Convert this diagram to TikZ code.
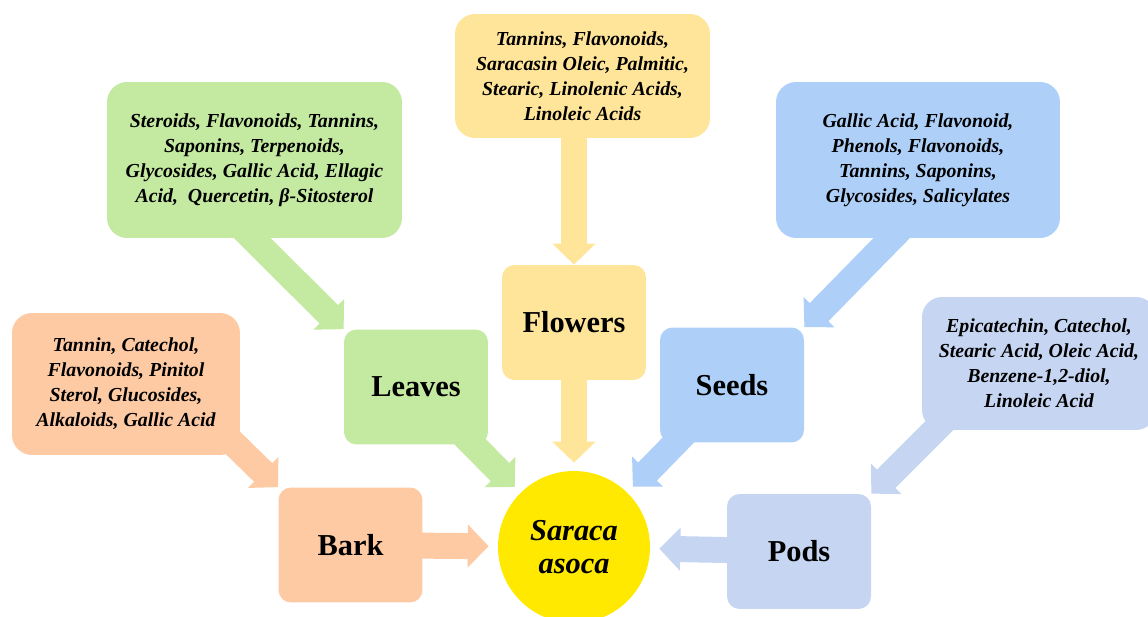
\documentclass[tikz,border=0pt]{standalone}
\usepackage{fontspec}
\setmainfont{Liberation Serif}
\usepackage{tikz}
\usetikzlibrary{arrows.meta,backgrounds}

\definecolor{leafgreen}{RGB}{196,233,161}
\definecolor{flowerbuff}{RGB}{255,229,153}
\definecolor{seedblue}{RGB}{174,208,248}
\definecolor{barkpeach}{RGB}{253,202,164}
\definecolor{podlilac}{RGB}{198,214,242}
\definecolor{asocayellow}{RGB}{255,233,0}

\begin{document}
\begin{tikzpicture}[x=0.02cm, y=-0.02cm,
    info/.style={rounded corners=0.4cm, inner sep=0pt, align=center,
        font=\fontsize{11.3}{14.2}\selectfont\bfseries\itshape},
    part/.style={rounded corners=0.25cm, minimum width=2.88cm, minimum height=2.3cm,
        inner sep=0pt, font=\fontsize{17.3}{20}\selectfont\bfseries},
    blockarrow/.style={line width=0.52cm, -{Triangle[width=0.84cm, length=0.42cm]}}]

    \useasboundingbox (0,0) rectangle (1148,617);

    % lists of compounds
    \node[info, fill=leafgreen, minimum width=5.9cm, minimum height=3.12cm] (leavesinfo) at (254.5,160)
        {Steroids, Flavonoids, Tannins,\\ Saponins, Terpenoids,\\ Glycosides, Gallic Acid, Ellagic\\ Acid,\ \ Quercetin, β-Sitosterol};
    \node[info, fill=flowerbuff, minimum width=5.1cm, minimum height=2.48cm] (flowersinfo) at (582.5,76)
        {Tannins, Flavonoids,\\ Saracasin Oleic, Palmitic,\\ Stearic, Linolenic Acids,\\ Linoleic Acids};
    \node[info, fill=seedblue, minimum width=5.68cm, minimum height=3.12cm] (seedsinfo) at (918,160)
        {Gallic Acid, Flavonoid,\\ Phenols, Flavonoids,\\ Tannins, Saponins,\\ Glycosides, Salicylates};
    \node[info, fill=barkpeach, minimum width=4.56cm, minimum height=2.84cm] (barkinfo) at (126,384)
        {Tannin, Catechol,\\ Flavonoids, Pinitol\\ Sterol, Glucosides,\\ Alkaloids, Gallic Acid};
    \node[info, fill=podlilac, minimum width=4.68cm, minimum height=2.66cm] (podsinfo) at (1039,363.5)
        {Epicatechin, Catechol,\\ Stearic Acid, Oleic Acid,\\ Benzene-1,2-diol,\\ Linoleic Acid};

    % plant parts
    \node[part, fill=leafgreen] (leaves) at (416,387) {Leaves};
    \node[part, fill=flowerbuff] (flowers) at (574,322.5) {Flowers};
    \node[part, fill=seedblue] (seeds) at (732,385) {Seeds};
    \node[part, fill=barkpeach] (bark) at (350.5,545) {Bark};
    \node[part, fill=podlilac] (pods) at (799,551.5) {Pods};

    \node[circle, fill=asocayellow, minimum size=3.04cm, inner sep=0pt, align=center,
        font=\fontsize{17.3}{18.5}\selectfont\bfseries\itshape] (sa) at (574,547) {Saraca\\ asoca};

    \begin{scope}[on background layer]
        \draw[blockarrow, leafgreen] ([shift={(-22,-20)}]leavesinfo.south) -- (leaves.north west);
        \draw[blockarrow, flowerbuff] (flowersinfo -| flowers) -- (flowers.north);
        \draw[blockarrow, seedblue] ([shift={(-7,-20)}]seedsinfo.south) -- (seeds.north east);
        \draw[blockarrow, barkpeach] ([shift={(-10,-15)}]barkinfo.south east) -- (bark.north west);
        \draw[blockarrow, podlilac] ([shift={(28,-15)}]podsinfo.south west) -- (pods.north east);

        \draw[blockarrow, leafgreen, shorten >=0.16cm] (leaves.center) -- (sa);
        \draw[blockarrow, flowerbuff, shorten >=0.16cm] (flowers.center) -- (sa);
        \draw[blockarrow, seedblue, shorten >=0.16cm] (seeds.center) -- (sa);
        \draw[blockarrow, barkpeach, shorten >=0.18cm] (bark.center) -- (sa);
        \draw[blockarrow, podlilac, shorten >=0.18cm] (pods.center) -- (sa);
    \end{scope}

\end{tikzpicture}
\end{document}
